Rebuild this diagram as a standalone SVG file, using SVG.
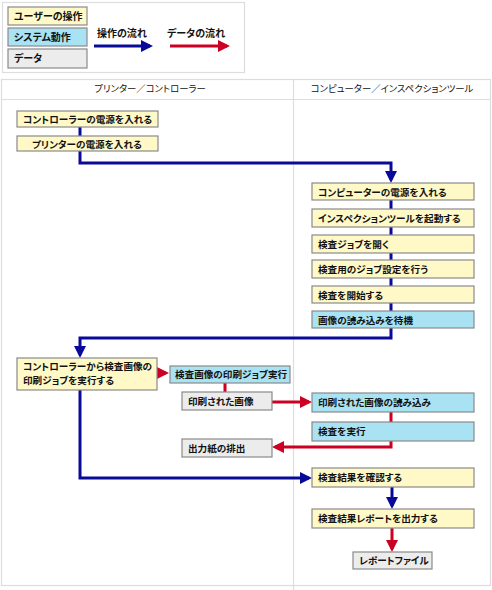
<svg xmlns="http://www.w3.org/2000/svg" width="492" height="590" viewBox="0 0 492 590">
<style>
text{font-family:"Noto Sans CJK JP","Noto Sans",sans-serif;font-size:9.6px;font-weight:bold;fill:#111;font-feature-settings:"palt"}
.lg{font-size:10px}
.h{font-weight:normal;font-size:9.4px}
.op{fill:#fff9c8;stroke:#8a8a8a;stroke-width:1.2}
.sys{fill:#a9e2f3;stroke:#8a8a8a;stroke-width:1.2}
.dat{fill:#ececec;stroke:#8a8a8a;stroke-width:1.2}
.b{fill:none;stroke:#0a0a99;stroke-width:3}
.r{fill:none;stroke:#cc0022;stroke-width:3}
.frame{fill:none;stroke:#dddddd;stroke-width:1.2}
</style>
<defs>
<marker id="ab" markerWidth="4" markerHeight="4" refX="3" refY="2" orient="auto" markerUnits="strokeWidth"><path d="M0,0 L4,2 L0,4 Z" fill="#0a0a99"/></marker>
<marker id="ar" markerWidth="4" markerHeight="4" refX="3" refY="2" orient="auto" markerUnits="strokeWidth"><path d="M0,0 L4,2 L0,4 Z" fill="#cc0022"/></marker>
</defs>
<rect width="492" height="590" fill="#fff"/>
<g id="legend">
<rect class="frame" x="2.5" y="2.5" width="242" height="70"/>
<rect class="op" x="8" y="7" width="79" height="18"/><text class="lg" x="14" y="20">ユーザーの操作</text>
<rect class="sys" x="8" y="28" width="79" height="18"/><text class="lg" x="14" y="41">システム動作</text>
<rect class="dat" x="8" y="49" width="79" height="19"/><text class="lg" x="14" y="62">データ</text>
<text class="lg" x="97" y="37">操作の流れ</text>
<line class="b" x1="94" y1="46" x2="150" y2="46" marker-end="url(#ab)"/>
<text class="lg" x="167" y="37">データの流れ</text>
<line class="r" x1="170" y1="46" x2="227" y2="46" marker-end="url(#ar)"/>
</g>
<g id="lanes">
<rect class="frame" x="1.5" y="79.5" width="489" height="506"/>
<line class="frame" x1="1.5" y1="99.5" x2="490.5" y2="99.5"/>
<line class="frame" x1="293.5" y1="79.5" x2="293.5" y2="590"/>
<text class="h" x="150" y="92" text-anchor="middle">プリンター／コントローラー</text>
<text class="h" x="392" y="92" text-anchor="middle">コンピューター／インスペクションツール</text>
</g>
<g id="connectors">
<line class="b" x1="80" y1="127" x2="80" y2="136"/>
<polyline class="b" points="80,151 80,163 391,163 391,180" marker-end="url(#ab)"/>
<line class="b" x1="391" y1="200" x2="391" y2="209"/>
<line class="b" x1="391" y1="227" x2="391" y2="235"/>
<line class="b" x1="391" y1="253" x2="391" y2="260"/>
<line class="b" x1="391" y1="278" x2="391" y2="286"/>
<line class="b" x1="391" y1="303" x2="391" y2="311"/>
<polyline class="b" points="391,328 391,338 80,338 80,355" marker-end="url(#ab)"/>
<line class="r" x1="157" y1="373" x2="166" y2="373" marker-end="url(#ar)"/>
<line class="r" x1="225" y1="383" x2="225" y2="392"/>
<line class="r" x1="272" y1="402" x2="309" y2="402" marker-end="url(#ar)"/>
<line class="r" x1="391" y1="412" x2="391" y2="422"/>
<polyline class="r" points="391,441 391,447 275,447" marker-end="url(#ar)"/>
<polyline class="b" points="80,390 80,478 309,478" marker-end="url(#ab)"/>
<line class="b" x1="392" y1="487" x2="392" y2="506" marker-end="url(#ab)"/>
<line class="r" x1="392" y1="528" x2="392" y2="549" marker-end="url(#ar)"/>
</g>
<g id="n1"><rect class="op" x="17" y="111" width="141" height="16"/><text x="23" y="123">コントローラーの電源を入れる</text></g>
<g id="n2"><rect class="op" x="17" y="136" width="141" height="15"/><text x="32" y="148">プリンターの電源を入れる</text></g>
<g id="n3"><rect class="op" x="312" y="183" width="162" height="17"/><text x="318" y="196">コンピューターの電源を入れる</text></g>
<g id="n4"><rect class="op" x="312" y="209" width="162" height="18"/><text x="318" y="222">インスペクションツールを起動する</text></g>
<g id="n5"><rect class="op" x="312" y="235" width="162" height="18"/><text x="318" y="248">検査ジョブを開く</text></g>
<g id="n6"><rect class="op" x="312" y="260" width="162" height="18"/><text x="318" y="273">検査用のジョブ設定を行う</text></g>
<g id="n7"><rect class="op" x="312" y="286" width="162" height="17"/><text x="318" y="299">検査を開始する</text></g>
<g id="n8"><rect class="sys" x="312" y="311" width="162" height="17"/><text x="318" y="324">画像の読み込みを待機</text></g>
<g id="n9"><rect class="op" x="17" y="358" width="140" height="32"/><text x="23" y="370">コントローラーから検査画像の</text><text x="23" y="384">印刷ジョブを実行する</text></g>
<g id="n10"><rect class="sys" x="170" y="366" width="120" height="17"/><text x="175" y="378">検査画像の印刷ジョブ実行</text></g>
<g id="n11"><rect class="dat" x="182" y="392" width="90" height="18"/><text x="188" y="405">印刷された画像</text></g>
<g id="n12"><rect class="sys" x="312" y="393" width="162" height="19"/><text x="318" y="406">印刷された画像の読み込み</text></g>
<g id="n13"><rect class="sys" x="312" y="422" width="162" height="19"/><text x="318" y="435">検査を実行</text></g>
<g id="n14"><rect class="dat" x="182" y="439" width="90" height="18"/><text x="188" y="452">出力紙の排出</text></g>
<g id="n15"><rect class="op" x="312" y="468" width="162" height="19"/><text x="318" y="481">検査結果を確認する</text></g>
<g id="n16"><rect class="op" x="312" y="509" width="162" height="19"/><text x="318" y="522">検査結果レポートを出力する</text></g>
<g id="n17"><rect class="dat" x="353" y="552" width="79" height="17"/><text x="359" y="564">レポートファイル</text></g>
</svg>
